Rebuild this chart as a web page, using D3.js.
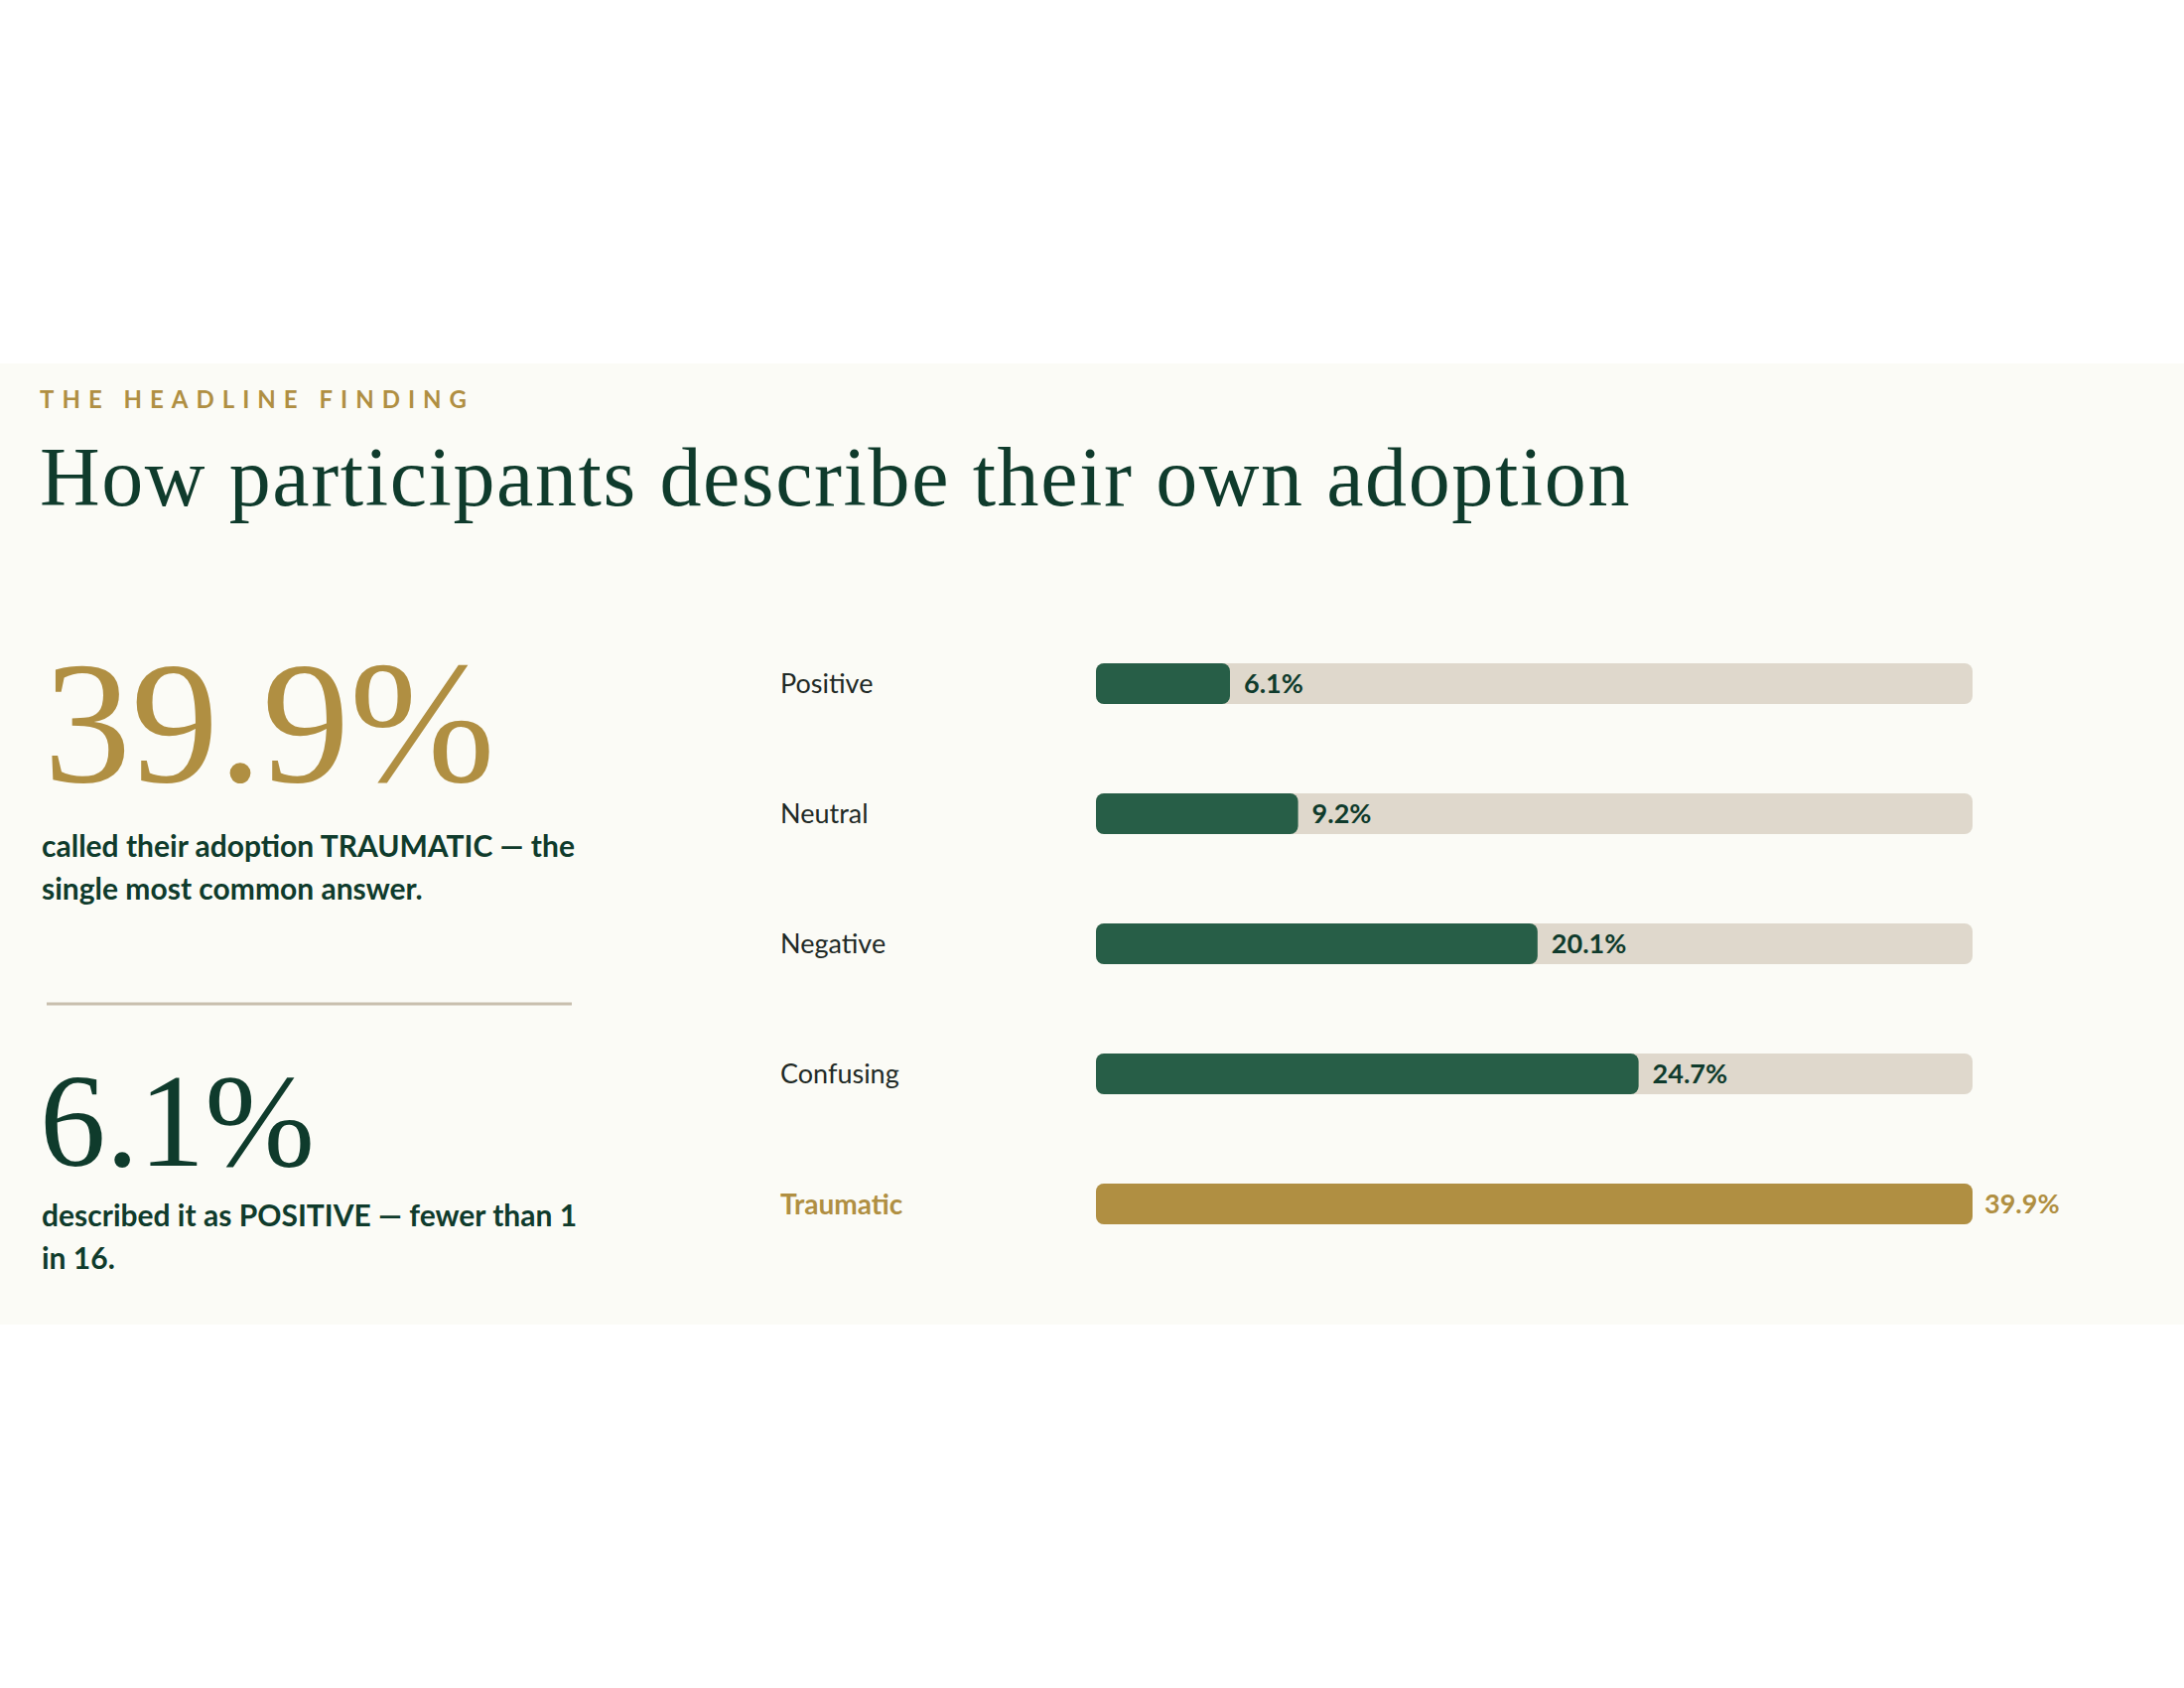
<!DOCTYPE html>
<html>
<head>
<meta charset="utf-8">
<script src="https://cdn.jsdelivr.net/npm/d3@7/dist/d3.min.js"></script>
<style>
  html, body { margin: 0; padding: 0; background: #ffffff; }
  svg { display: block; }
</style>
</head>
<body>
<svg id="chart" width="2200" height="1700"></svg>
<script>
// ---- data ----
const categories = ["Positive", "Neutral", "Negative", "Confusing", "Traumatic"];
const values = [6.1, 9.2, 20.1, 24.7, 39.9];
const valueLabels = ["6.1%", "9.2%", "20.1%", "24.7%", "39.9%"];
const highlight = "Traumatic";
const eyebrow = "THE HEADLINE FINDING";
const title = "How participants describe their own adoption";
const stat1 = "39.9%";
const stat1Lines = ["called their adoption TRAUMATIC — the", "single most common answer."];
const stat2 = "6.1%";
const stat2Lines = ["described it as POSITIVE — fewer than 1", "in 16."];

// ---- styles ----
const C = {
  panel: "#FBFBF6", dark: "#0F3B2C", green: "#275E47", gold: "#B08F42",
  track: "#DFD8CC", rule: "#C8BFAE", label: "#1F2A26"
};
const sans = "Lato, 'Open Sans', sans-serif";
const serif = "'Liberation Serif', 'Times New Roman', serif";

const svg = d3.select("#chart");

svg.append("rect").attr("x", 0).attr("y", 366).attr("width", 2200).attr("height", 968).attr("fill", C.panel);

svg.append("text").attr("x", 40).attr("y", 411)
  .attr("font-family", sans).attr("font-weight", 700).attr("font-size", 24)
  .attr("letter-spacing", "8px").attr("fill", C.gold).text(eyebrow);

svg.append("text").attr("x", 40).attr("y", 509)
  .attr("font-family", serif).attr("font-size", 84).attr("letter-spacing", "1.6px")
  .attr("fill", C.dark).text(title);

// left stats
svg.append("text").attr("x", 44).attr("y", 787)
  .attr("font-family", serif).attr("font-size", 176).attr("fill", C.gold).text(stat1);

const t1 = svg.append("text").attr("font-family", sans).attr("font-weight", 700)
  .attr("font-size", 30).attr("fill", C.dark);
stat1Lines.forEach((l, i) => t1.append("tspan").attr("x", 42).attr("y", 863 + i * 43).text(l));

svg.append("line").attr("x1", 47).attr("x2", 576).attr("y1", 1011).attr("y2", 1011)
  .attr("stroke", C.rule).attr("stroke-width", 3);

svg.append("text").attr("x", 40).attr("y", 1174)
  .attr("font-family", serif).attr("font-size", 133).attr("fill", C.dark).text(stat2);

const t2 = svg.append("text").attr("font-family", sans).attr("font-weight", 700)
  .attr("font-size", 30).attr("fill", C.dark);
stat2Lines.forEach((l, i) => t2.append("tspan").attr("x", 42).attr("y", 1235 + i * 43).text(l));

// bars
const x = d3.scaleLinear().domain([0, d3.max(values)]).range([1104, 1987]);
const y = d3.scaleBand().domain(categories).range([668, 1233])
  .paddingInner(0.687).paddingOuter(0).align(0);
const data = categories.map((c, i) => ({ c, v: values[i], label: valueLabels[i] }));

const g = svg.append("g");
const row = g.selectAll("g.row").data(data).join("g").attr("class", "row");

row.append("rect").attr("x", x(0)).attr("y", d => y(d.c))
  .attr("width", x(d3.max(values)) - x(0)).attr("height", y.bandwidth())
  .attr("rx", 8).attr("fill", C.track);

row.append("rect").attr("x", x(0)).attr("y", d => y(d.c))
  .attr("width", d => x(d.v) - x(0)).attr("height", y.bandwidth())
  .attr("rx", 8).attr("fill", d => d.c === highlight ? C.gold : C.green);

row.append("text").attr("x", 786).attr("y", d => y(d.c) + y.bandwidth() / 2)
  .attr("dy", "0.37em").attr("font-family", sans)
  .attr("font-size", d => d.c === highlight ? 28 : 27)
  .attr("font-weight", d => d.c === highlight ? 700 : 400)
  .attr("fill", d => d.c === highlight ? C.gold : C.label).text(d => d.c);

row.append("text").attr("x", d => x(d.v) + (d.c === highlight ? 12 : 14))
  .attr("y", d => y(d.c) + y.bandwidth() / 2)
  .attr("dy", "0.37em").attr("font-family", sans).attr("font-size", 27)
  .attr("font-weight", 700)
  .attr("fill", d => d.c === highlight ? C.gold : C.dark).text(d => d.label);
</script>
</body>
</html>
